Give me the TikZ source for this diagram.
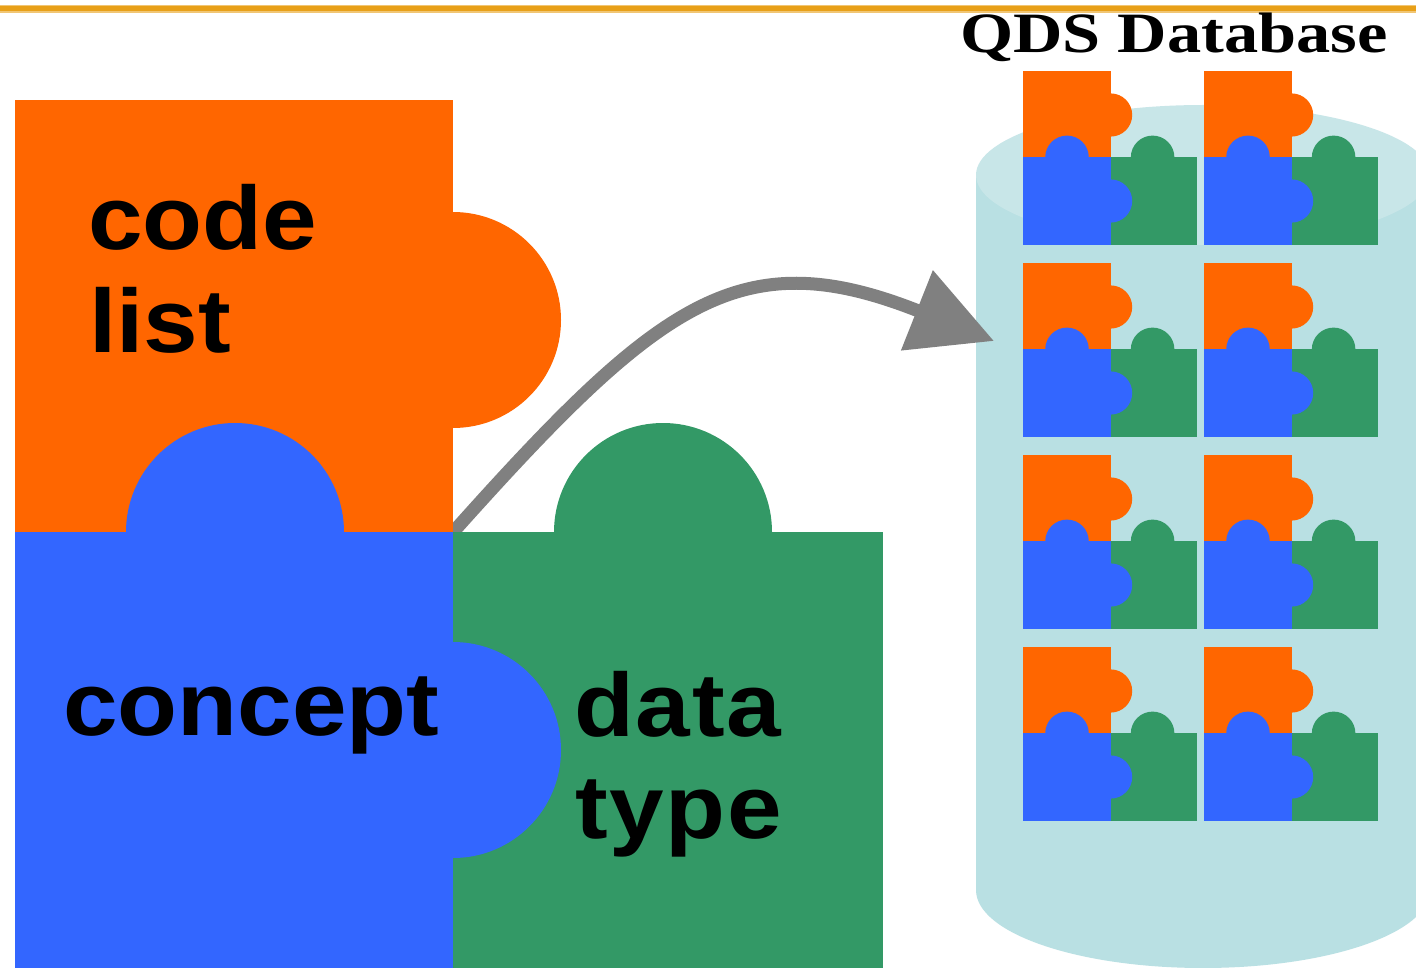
\documentclass[tikz,border=0pt]{standalone}
\usepackage{fontspec}
\usetikzlibrary{arrows.meta}
\newfontfamily\labelfont[FakeStretch=1.09]{Liberation Sans}
\newfontfamily\labelfontwide[FakeStretch=1.09,LetterSpace=2]{Liberation Sans}
\newfontfamily\titlefont[FakeStretch=1.2]{Liberation Serif}
\definecolor{pzorange}{RGB}{255,102,0}
\definecolor{pzblue}{RGB}{51,102,255}
\definecolor{pzgreen}{RGB}{51,153,102}
\definecolor{cylbody}{RGB}{185,224,227}
\definecolor{cyltop}{RGB}{200,230,232}
\definecolor{arrowgray}{RGB}{128,128,128}
\definecolor{rulegold}{RGB}{232,160,24}
\tikzset{
  puzzle/.pic={
    \fill[pzorange] (0,0) rectangle (438,432);
    \fill[pzorange] (438,220) circle[radius=108];
    \fill[pzgreen] (438,432) rectangle (868,872);
    \fill[pzgreen] (648,432) circle[radius=109];
    \fill[pzblue] (0,432) rectangle (438,872);
    \fill[pzblue] (220,432) circle[radius=109];
    \fill[pzblue] (438,650) circle[radius=108];
  },
  lbl/.style={anchor=base west, inner sep=0pt, text=black,
    font=\labelfont\bfseries\fontsize{90}{100}\selectfont},
  lblwide/.style={lbl, font=\labelfontwide\bfseries\fontsize{90}{100}\selectfont},
  flowarrow/.style={draw=arrowgray, line width=13pt,
    -{Triangle[length=83pt,width=83pt,fill=arrowgray]}},
}
\begin{document}
\begin{tikzpicture}[x=1pt,y=-1pt]
\useasboundingbox (0,0) rectangle (1416,968);
\clip (0,0) rectangle (1416,968);
\fill[white] (0,0) rectangle (1416,968);
% top rule
\fill[rulegold!60] (0,5) rectangle (1416,13);
\fill[rulegold] (0,6.5) rectangle (1416,11.5);
% title
\node[anchor=base west, inner sep=0pt,
  font=\titlefont\bfseries\fontsize{57}{60}\selectfont] (title) at (960,53) {QDS Database};
% database cylinder
\fill[cylbody] (976,175) rectangle (1430,890);
\fill[cylbody] (1203,890) ellipse[x radius=227, y radius=78];
\fill[cyltop] (1203,175) ellipse[x radius=227, y radius=70];
\coordinate (dbentry) at (994,341);
% small puzzles in the database
\foreach \px in {1023,1204}{
  \foreach \py in {71,263,455,647}{
    \pic[scale=0.2] (small\px-\py) at (\px,\py) {puzzle};
  }
}
% arrow
\coordinate (arrowstart) at (447,539);
\draw[flowarrow] (arrowstart) .. controls (660,300) and (740,240) .. (dbentry);
% big puzzle
\pic (big) at (15,100) {puzzle};
% labels
\node[lbl] (codeA) at (88,250) {code};
\node[lbl] (codeB) at (89,352) {list};
\node[lbl] (concept) at (63,735) {concept};
\node[lblwide] (dataA) at (574,736) {data};
\node[lblwide] (dataB) at (575,838) {type};
\end{tikzpicture}
\end{document}
